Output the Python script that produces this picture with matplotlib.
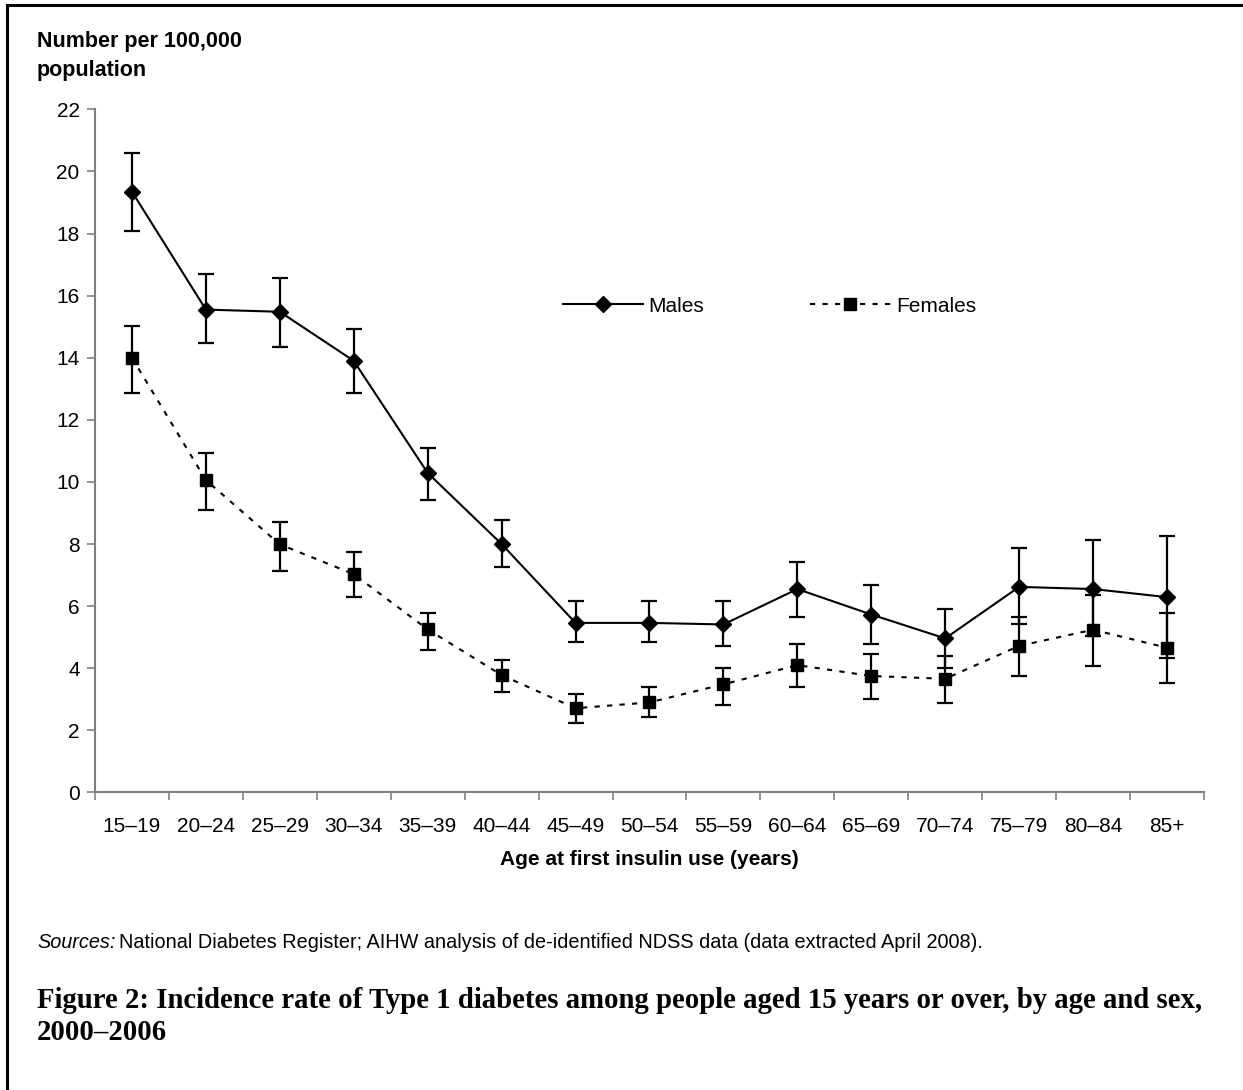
import matplotlib
matplotlib.use("Agg")
import matplotlib.pyplot as plt
from matplotlib.lines import Line2D

plt.rcParams['font.family'] = ['Liberation Sans', 'DejaVu Sans']

ages = ['15–19', '20–24', '25–29', '30–34', '35–39', '40–44', '45–49', '50–54',
        '55–59', '60–64', '65–69', '70–74', '75–79', '80–84', '85+']

males = [19.35, 15.55, 15.48, 13.90, 10.29, 8.00, 5.46, 5.46, 5.41, 6.55, 5.73, 4.96, 6.62, 6.55, 6.29]
males_hi = [20.58, 16.70, 16.56, 14.91, 11.10, 8.77, 6.16, 6.16, 6.16, 7.43, 6.68, 5.91, 7.87, 8.13, 8.27]
males_lo = [18.08, 14.47, 14.35, 12.88, 9.42, 7.25, 4.84, 4.84, 4.71, 5.66, 4.78, 4.02, 5.41, 5.04, 4.34]

females = [14.00, 10.06, 7.99, 7.03, 5.25, 3.78, 2.71, 2.90, 3.48, 4.10, 3.75, 3.66, 4.72, 5.24, 4.66]
females_hi = [15.03, 10.92, 8.71, 7.75, 5.79, 4.27, 3.18, 3.38, 4.02, 4.77, 4.46, 4.39, 5.66, 6.36, 5.79]
females_lo = [12.88, 9.10, 7.12, 6.30, 4.59, 3.24, 2.25, 2.44, 2.81, 3.38, 3.00, 2.88, 3.76, 4.08, 3.51]

x = list(range(len(ages)))

fig = plt.figure(figsize=(12.43, 10.9), dpi=100)
ax = fig.add_axes([0.0764, 0.273, 0.8922, 0.6267])

m_err = [[m - lo for m, lo in zip(males, males_lo)], [hi - m for m, hi in zip(males, males_hi)]]
f_err = [[f - lo for f, lo in zip(females, females_lo)], [hi - f for f, hi in zip(females, females_hi)]]

ax.errorbar(x, males, yerr=m_err, fmt='none', ecolor='black', elinewidth=1.6, capsize=6, capthick=1.6, zorder=3)
ax.errorbar(x, females, yerr=f_err, fmt='none', ecolor='black', elinewidth=1.6, capsize=6, capthick=1.6, zorder=3)

ax.plot(x, males, color='black', lw=1.5, marker='D', markersize=8.5, label='Males', zorder=4)
ax.plot(x, females, color='black', lw=1.5, linestyle=(0, (2.5, 3.5)), marker='s', markersize=8,
        label='Females', zorder=4)

ax.set_xlim(-0.5, len(ages) - 0.5)
ax.set_ylim(0, 22)
ax.set_yticks(range(0, 23, 2))
ax.set_xticks([i - 0.5 for i in range(len(ages) + 1)])
ax.set_xticklabels([])
ax.set_xticks(x, minor=True)
ax.set_xticklabels(ages, minor=True)

for side in ['top', 'right']:
    ax.spines[side].set_visible(False)
for side in ['left', 'bottom']:
    ax.spines[side].set_color('#808080')
    ax.spines[side].set_linewidth(1.5)

ax.tick_params(axis='y', which='major', direction='out', length=6, width=1.2, color='#808080',
               labelsize=15, pad=5)
ax.tick_params(axis='x', which='major', direction='out', length=6, width=1.2, color='#808080')
ax.tick_params(axis='x', which='minor', length=0, labelsize=15, pad=18)

ax.set_xlabel('Age at first insulin use (years)', fontsize=15, fontweight='bold', labelpad=10)

ax.legend(loc='center left', bbox_to_anchor=(0.422, 0.712), ncol=2, frameon=False, fontsize=15,
          handlelength=3.85, handletextpad=0.25, columnspacing=5.1, borderpad=0, borderaxespad=0)

fig.text(0.0298, 1 - 42 / 1090, 'Number per 100,000', fontsize=15.5, fontweight='bold', va='center')
fig.text(0.0298, 1 - 70 / 1090, 'population', fontsize=15.5, fontweight='bold', va='center')

fig.canvas.draw()
r = fig.canvas.get_renderer()
t1 = fig.text(0.0298, 1 - 943 / 1090, 'Sources:', fontsize=14.3, style='italic', va='center')
bb = t1.get_window_extent(renderer=r)
fig.text(bb.x1 / fig.bbox.width + 0.003, 1 - 943 / 1090,
         'National Diabetes Register; AIHW analysis of de-identified NDSS data (data extracted April 2008).',
         fontsize=14.3, va='center')

fig.text(0.0298, 1 - 1000 / 1090,
         'Figure 2: Incidence rate of Type 1 diabetes among people aged 15 years or over, by age and sex,',
         fontsize=20.7, fontweight='bold', family=['Liberation Serif', 'DejaVu Serif'], va='center')
fig.text(0.0298, 1 - 1032 / 1090, '2000–2006',
         fontsize=20.7, fontweight='bold', family=['Liberation Serif', 'DejaVu Serif'], va='center')

# frame lines at top and left like the cropped page border
fig.add_artist(Line2D([0.0056, 0.0056], [0, 0.9954], transform=fig.transFigure, color='black', lw=2.2))
fig.add_artist(Line2D([0.0056, 1], [0.9954, 0.9954], transform=fig.transFigure, color='black', lw=2.2))

fig.savefig('out.png', dpi=100)
